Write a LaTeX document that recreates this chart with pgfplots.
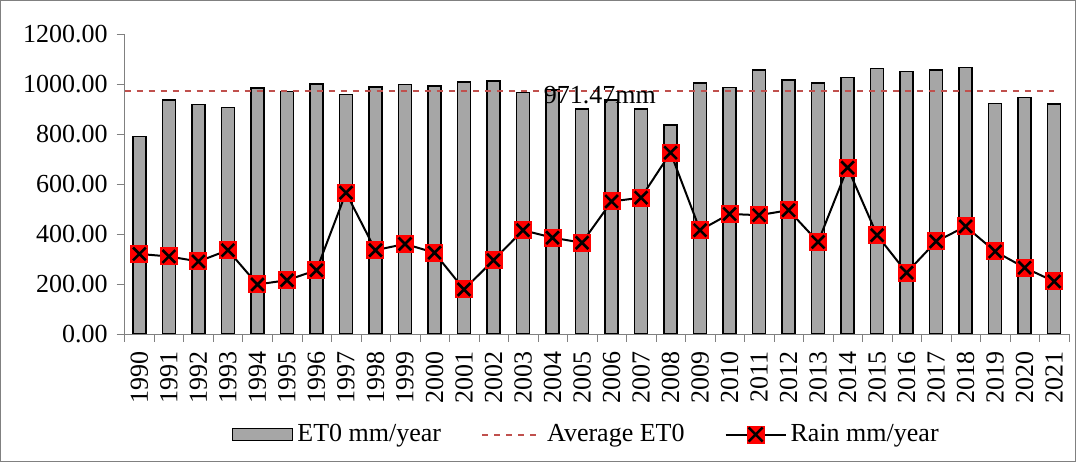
\documentclass[border=0pt]{standalone}
\usepackage{pgfplots}
\pgfplotsset{compat=1.18}
\usepackage{fontspec}
\setmainfont{Liberation Serif}
\definecolor{avgred}{RGB}{192,80,77}
\begin{document}
\fontsize{13}{15}\selectfont
\begin{tikzpicture}
\begin{axis}[
 scale only axis, width=472pt, height=150pt,
 xmin=-0.5, xmax=31.5, ymin=0, ymax=1200,
 axis x line=bottom, axis y line=left,
 axis line style={gray,-}, 
 xtick={0,...,31}, xticklabels={1990,1991,1992,1993,1994,1995,1996,1997,1998,1999,2000,2001,2002,2003,2004,2005,2006,2007,2008,2009,2010,2011,2012,2013,2014,2015,2016,2017,2018,2019,2020,2021},
 x tick label style={rotate=90,anchor=east,font=\fontsize{13}{15}\selectfont},
 major x tick style={draw=none},
 minor xtick={-0.5,0.5,...,31.5}, minor x tick style={gray}, minor tick length=4pt,
 ytick={0,200,...,1200}, y tick style={gray}, tick align=outside, major tick length=4pt,
 yticklabel={\pgfmathprintnumber[fixed,fixed zerofill,precision=2,1000 sep={}]{\tick}},
 /pgf/number format/assume math mode=true,
 y tick label style={font=\fontsize{13}{15}\selectfont},
 legend style={at={(0.49,-0.335)},anchor=center,draw=none,legend columns=3,font=\fontsize{13}{15}\selectfont,/tikz/every even column/.append style={column sep=18pt}},
]
\addplot[ybar, bar width=6.5pt, fill=gray!70, draw=black, line width=0.7pt,
 legend image code/.code={\draw[fill=gray!70,draw=black] (0pt,-3pt) rectangle (30pt,3pt);}] coordinates {
(0,790)(1,935)(2,918)(3,905)(4,983)(5,970)(6,1000)(7,958)(8,988)(9,997)(10,992)(11,1008)(12,1012)(13,965)(14,975)(15,900)(16,935)(17,900)(18,835)(19,1003)(20,985)(21,1055)(22,1015)(23,1003)(24,1025)(25,1062)(26,1050)(27,1055)(28,1065)(29,922)(30,945)(31,920)};
\addlegendentry{ET0 mm/year}
\addplot[dashed, color=avgred, line width=1pt,
 legend image code/.code={\draw[dashed,avgred,line width=1pt] (0pt,0pt) -- (30pt,0pt);}] coordinates {(-0.5,971.47)(31,971.47)};
\addlegendentry{Average ET0}
\addplot[black, line width=1pt, mark=square*, mark size=4pt, mark options={fill=red,draw=red},
 legend image code/.code={\draw[black,line width=1pt] (0pt,0pt) -- (30pt,0pt); \fill[red] (11pt,-4pt) rectangle (19pt,4pt); \draw[black,line width=1.3pt] (11.5pt,-3.5pt) -- (18.5pt,3.5pt) (11.5pt,3.5pt) -- (18.5pt,-3.5pt);}] coordinates {
(0,320)(1,310)(2,290)(3,335)(4,198)(5,215)(6,255)(7,565)(8,335)(9,360)(10,325)(11,178)(12,295)(13,415)(14,385)(15,365)(16,530)(17,545)(18,725)(19,415)(20,480)(21,475)(22,495)(23,368)(24,665)(25,395)(26,245)(27,370)(28,430)(29,330)(30,265)(31,210)};
\addlegendentry{Rain mm/year}
\addplot[only marks, mark=x, mark size=4.5pt, mark options={black,line width=1.3pt}, forget plot] coordinates {
(0,320)(1,310)(2,290)(3,335)(4,198)(5,215)(6,255)(7,565)(8,335)(9,360)(10,325)(11,178)(12,295)(13,415)(14,385)(15,365)(16,530)(17,545)(18,725)(19,415)(20,480)(21,475)(22,495)(23,368)(24,665)(25,395)(26,245)(27,370)(28,430)(29,330)(30,265)(31,210)};
\node[font=\fontsize{13}{15}\selectfont] at (axis cs:15.6,955) {971.47mm};
\end{axis}
\draw[gray] ([shift={(-7pt,-4pt)}]current bounding box.south west) rectangle ([shift={(2pt,8pt)}]current bounding box.north east);
\end{tikzpicture}
\end{document}
